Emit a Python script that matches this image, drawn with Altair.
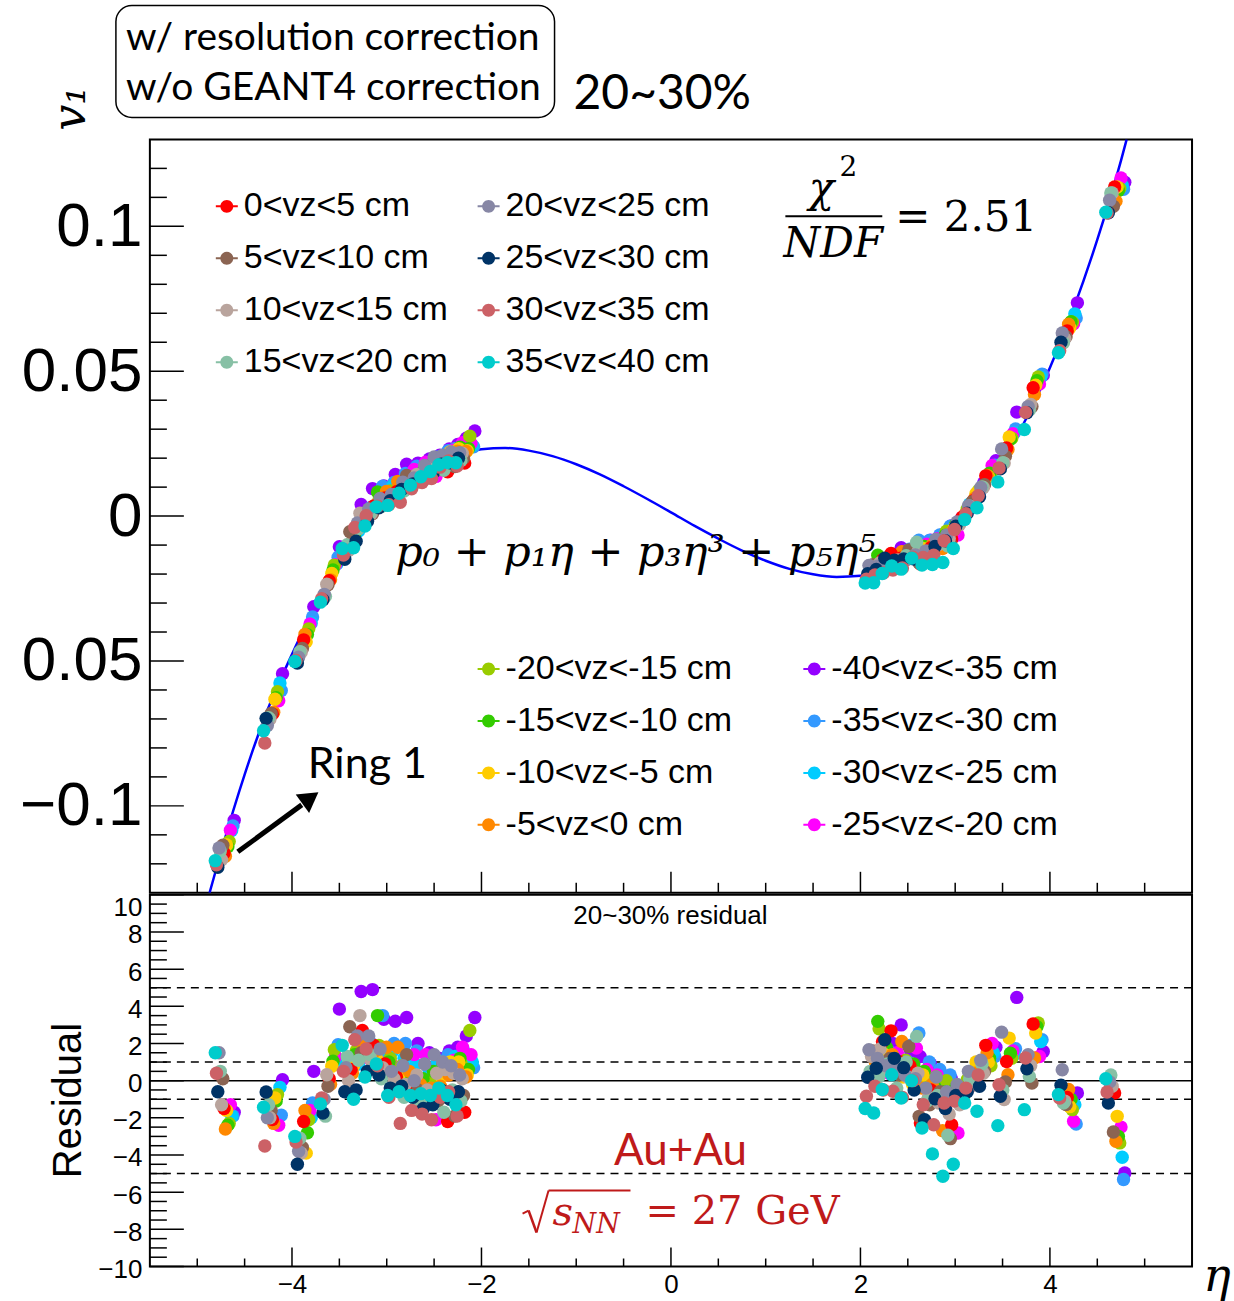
import altair as alt
import pandas as pd

# ---------------------------------------------------------------- data
VZ_BINS = ["-40<vz<-35 cm", "-35<vz<-30 cm", "-30<vz<-25 cm", "-25<vz<-20 cm",
           "-20<vz<-15 cm", "-15<vz<-10 cm", "-10<vz<-5 cm", "-5<vz<0 cm",
           "0<vz<5 cm", "5<vz<10 cm", "10<vz<15 cm", "15<vz<20 cm",
           "20<vz<25 cm", "25<vz<30 cm", "30<vz<35 cm", "35<vz<40 cm"]
VZ_COLORS = ["#9400ff", "#3399ff", "#00ccff", "#ff00ff",
             "#99cc00", "#33cc00", "#ffcc00", "#ff8800",
             "#ff0000", "#8b6452", "#b9a49d", "#87c0a5",
             "#8787a5", "#003366", "#cc6166", "#00cccc"]
# legend entries, column by column as in the figure
LEGEND_POS = ["0<vz<5 cm", "5<vz<10 cm", "10<vz<15 cm", "15<vz<20 cm",
              "20<vz<25 cm", "25<vz<30 cm", "30<vz<35 cm", "35<vz<40 cm"]
LEGEND_NEG = ["-20<vz<-15 cm", "-15<vz<-10 cm", "-10<vz<-5 cm", "-5<vz<0 cm",
              "-40<vz<-35 cm", "-35<vz<-30 cm", "-30<vz<-25 cm", "-25<vz<-20 cm"]

# eta of the 32 ring points (ascending) for each vz bin
ETA_B00 = [-4.61, -4.10, -3.77, -3.50, -3.27, -3.15, -3.03, -2.91, -2.79, -2.67, -2.55, -2.44, -2.34, -2.25, -2.16, -2.07, 2.25, 2.34, 2.43, 2.53, 2.63, 2.74, 2.85, 2.96, 3.07, 3.18, 3.30, 3.43, 3.65, 3.93, 4.29, 4.79]
ETA_B01 = [-4.623, -4.113, -3.783, -3.513, -3.283, -3.163, -3.043, -2.923, -2.803, -2.683, -2.563, -2.453, -2.353, -2.263, -2.173, -2.083, 2.237, 2.327, 2.417, 2.517, 2.617, 2.727, 2.837, 2.947, 3.057, 3.167, 3.287, 3.417, 3.637, 3.917, 4.277, 4.777]
ETA_B02 = [-4.637, -4.127, -3.797, -3.527, -3.297, -3.177, -3.057, -2.937, -2.817, -2.697, -2.577, -2.467, -2.367, -2.277, -2.187, -2.097, 2.223, 2.313, 2.403, 2.503, 2.603, 2.713, 2.823, 2.933, 3.043, 3.153, 3.273, 3.403, 3.623, 3.903, 4.263, 4.763]
ETA_B03 = [-4.65, -4.14, -3.81, -3.54, -3.31, -3.19, -3.07, -2.95, -2.83, -2.71, -2.59, -2.48, -2.38, -2.29, -2.20, -2.11, 2.21, 2.30, 2.39, 2.49, 2.59, 2.70, 2.81, 2.92, 3.03, 3.14, 3.26, 3.39, 3.61, 3.89, 4.25, 4.75]
ETA_B04 = [-4.663, -4.153, -3.823, -3.553, -3.323, -3.203, -3.083, -2.963, -2.843, -2.723, -2.603, -2.493, -2.393, -2.303, -2.213, -2.123, 2.197, 2.287, 2.377, 2.477, 2.577, 2.687, 2.797, 2.907, 3.017, 3.127, 3.247, 3.377, 3.597, 3.877, 4.237, 4.737]
ETA_B05 = [-4.677, -4.167, -3.837, -3.567, -3.337, -3.217, -3.097, -2.977, -2.857, -2.737, -2.617, -2.507, -2.407, -2.317, -2.227, -2.137, 2.183, 2.273, 2.363, 2.463, 2.563, 2.673, 2.783, 2.893, 3.003, 3.113, 3.233, 3.363, 3.583, 3.863, 4.223, 4.723]
ETA_B06 = [-4.69, -4.18, -3.85, -3.58, -3.35, -3.23, -3.11, -2.99, -2.87, -2.75, -2.63, -2.52, -2.42, -2.33, -2.24, -2.15, 2.17, 2.26, 2.35, 2.45, 2.55, 2.66, 2.77, 2.88, 2.99, 3.10, 3.22, 3.35, 3.57, 3.85, 4.21, 4.71]
ETA_B07 = [-4.703, -4.193, -3.863, -3.593, -3.363, -3.243, -3.123, -3.003, -2.883, -2.763, -2.643, -2.533, -2.433, -2.343, -2.253, -2.163, 2.157, 2.247, 2.337, 2.437, 2.537, 2.647, 2.757, 2.867, 2.977, 3.087, 3.207, 3.337, 3.557, 3.837, 4.197, 4.697]
ETA_B08 = [-4.717, -4.207, -3.877, -3.607, -3.377, -3.257, -3.137, -3.017, -2.897, -2.777, -2.657, -2.547, -2.447, -2.357, -2.267, -2.177, 2.143, 2.233, 2.323, 2.423, 2.523, 2.633, 2.743, 2.853, 2.963, 3.073, 3.193, 3.323, 3.543, 3.823, 4.183, 4.683]
ETA_B09 = [-4.73, -4.22, -3.89, -3.62, -3.39, -3.27, -3.15, -3.03, -2.91, -2.79, -2.67, -2.56, -2.46, -2.37, -2.28, -2.19, 2.13, 2.22, 2.31, 2.41, 2.51, 2.62, 2.73, 2.84, 2.95, 3.06, 3.18, 3.31, 3.53, 3.81, 4.17, 4.67]
ETA_B10 = [-4.743, -4.233, -3.903, -3.633, -3.403, -3.283, -3.163, -3.043, -2.923, -2.803, -2.683, -2.573, -2.473, -2.383, -2.293, -2.203, 2.117, 2.207, 2.297, 2.397, 2.497, 2.607, 2.717, 2.827, 2.937, 3.047, 3.167, 3.297, 3.517, 3.797, 4.157, 4.657]
ETA_B11 = [-4.757, -4.247, -3.917, -3.647, -3.417, -3.297, -3.177, -3.057, -2.937, -2.817, -2.697, -2.587, -2.487, -2.397, -2.307, -2.217, 2.103, 2.193, 2.283, 2.383, 2.483, 2.593, 2.703, 2.813, 2.923, 3.033, 3.153, 3.283, 3.503, 3.783, 4.143, 4.643]
ETA_B12 = [-4.77, -4.26, -3.93, -3.66, -3.43, -3.31, -3.19, -3.07, -2.95, -2.83, -2.71, -2.60, -2.50, -2.41, -2.32, -2.23, 2.09, 2.18, 2.27, 2.37, 2.47, 2.58, 2.69, 2.80, 2.91, 3.02, 3.14, 3.27, 3.49, 3.77, 4.13, 4.63]
ETA_B13 = [-4.783, -4.273, -3.943, -3.673, -3.443, -3.323, -3.203, -3.083, -2.963, -2.843, -2.723, -2.613, -2.513, -2.423, -2.333, -2.243, 2.077, 2.167, 2.257, 2.357, 2.457, 2.567, 2.677, 2.787, 2.897, 3.007, 3.127, 3.257, 3.477, 3.757, 4.117, 4.617]
ETA_B14 = [-4.797, -4.287, -3.957, -3.687, -3.457, -3.337, -3.217, -3.097, -2.977, -2.857, -2.737, -2.627, -2.527, -2.437, -2.347, -2.257, 2.063, 2.153, 2.243, 2.343, 2.443, 2.553, 2.663, 2.773, 2.883, 2.993, 3.113, 3.243, 3.463, 3.743, 4.103, 4.603]
ETA_B15 = [-4.81, -4.30, -3.97, -3.70, -3.47, -3.35, -3.23, -3.11, -2.99, -2.87, -2.75, -2.64, -2.54, -2.45, -2.36, -2.27, 2.05, 2.14, 2.23, 2.33, 2.43, 2.54, 2.65, 2.76, 2.87, 2.98, 3.10, 3.23, 3.45, 3.73, 4.09, 4.59]

# v1 of every ring cluster, one value per vz bin (VZ_BINS order)
V1_L01 = [-0.1050, -0.1069, -0.1085, -0.1084, -0.1123, -0.1141, -0.1135, -0.1174, -0.1163, -0.1136, -0.1186, -0.1156, -0.1145, -0.1212, -0.1203, -0.1189]
V1_L02 = [-0.0544, -0.0602, -0.0576, -0.0637, -0.0606, -0.0627, -0.0632, -0.0677, -0.0683, -0.0681, -0.0701, -0.0696, -0.0723, -0.0698, -0.0783, -0.0741]
V1_L03 = [-0.0313, -0.0348, -0.0369, -0.0372, -0.0389, -0.0409, -0.0434, -0.0408, -0.0427, -0.0457, -0.0470, -0.0468, -0.0487, -0.0507, -0.0498, -0.0502]
V1_L04 = [-0.0106, -0.0142, -0.0165, -0.0167, -0.0169, -0.0186, -0.0198, -0.0220, -0.0223, -0.0237, -0.0235, -0.0277, -0.0270, -0.0289, -0.0285, -0.0297]
V1_L05 = [0.0040, -0.0038, -0.0051, -0.0045, -0.0049, -0.0059, -0.0078, -0.0092, -0.0094, -0.0054, -0.0119, -0.0099, -0.0117, -0.0149, -0.0134, -0.0112]
V1_L06 = [0.0095, 0.0031, 0.0021, 0.0004, 0.0016, 0.0002, -0.0009, -0.0005, 0.0005, -0.0025, 0.0010, -0.0044, -0.0024, -0.0087, -0.0039, -0.0109]
V1_L07 = [0.0104, 0.0103, 0.0054, 0.0043, 0.0056, 0.0083, 0.0032, 0.0035, 0.0035, 0.0008, 0.0009, 0.0010, 0.0025, -0.0018, 0.0001, -0.0034]
V1_L08 = [0.0144, 0.0116, 0.0103, 0.0085, 0.0087, 0.0078, 0.0066, 0.0085, 0.0063, 0.0048, 0.0050, 0.0033, 0.0061, 0.0029, 0.0034, 0.0032]
V1_L09 = [0.0179, 0.0147, 0.0127, 0.0111, 0.0112, 0.0100, 0.0094, 0.0120, 0.0084, 0.0070, 0.0074, 0.0058, 0.0075, 0.0053, 0.0039, 0.0037]
V1_L10 = [0.0183, 0.0172, 0.0154, 0.0161, 0.0135, 0.0130, 0.0114, 0.0129, 0.0103, 0.0140, 0.0104, 0.0087, 0.0117, 0.0092, 0.0048, 0.0079]
V1_L11 = [0.0197, 0.0178, 0.0165, 0.0186, 0.0149, 0.0154, 0.0133, 0.0143, 0.0119, 0.0131, 0.0144, 0.0115, 0.0132, 0.0111, 0.0094, 0.0107]
V1_L12 = [0.0210, 0.0192, 0.0203, 0.0137, 0.0180, 0.0184, 0.0158, 0.0161, 0.0147, 0.0152, 0.0152, 0.0136, 0.0175, 0.0125, 0.0116, 0.0136]
V1_L13 = [0.0232, 0.0226, 0.0210, 0.0200, 0.0202, 0.0208, 0.0192, 0.0180, 0.0170, 0.0160, 0.0188, 0.0162, 0.0204, 0.0148, 0.0130, 0.0154]
V1_L14 = [0.0247, 0.0221, 0.0233, 0.0228, 0.0220, 0.0216, 0.0221, 0.0205, 0.0153, 0.0177, 0.0206, 0.0158, 0.0210, 0.0179, 0.0169, 0.0177]
V1_L15 = [0.0269, 0.0244, 0.0250, 0.0253, 0.0234, 0.0238, 0.0233, 0.0224, 0.0198, 0.0171, 0.0216, 0.0196, 0.0221, 0.0184, 0.0190, 0.0185]
V1_L16 = [0.0294, 0.0239, 0.0244, 0.0251, 0.0276, 0.0233, 0.0226, 0.0223, 0.0183, 0.0200, 0.0217, 0.0192, 0.0219, 0.0200, 0.0173, 0.0184]
V1_R16 = [-0.0164, -0.0173, -0.0181, -0.0174, -0.0141, -0.0135, -0.0182, -0.0176, -0.0191, -0.0168, -0.0175, -0.0190, -0.0170, -0.0199, -0.0218, -0.0231]
V1_R15 = [-0.0141, -0.0151, -0.0167, -0.0174, -0.0161, -0.0152, -0.0161, -0.0171, -0.0151, -0.0176, -0.0161, -0.0189, -0.0173, -0.0184, -0.0203, -0.0230]
V1_R14 = [-0.0109, -0.0149, -0.0145, -0.0141, -0.0159, -0.0165, -0.0155, -0.0150, -0.0129, -0.0157, -0.0171, -0.0166, -0.0170, -0.0145, -0.0196, -0.0198]
V1_R13 = [-0.0117, -0.0114, -0.0132, -0.0138, -0.0134, -0.0144, -0.0155, -0.0123, -0.0145, -0.0160, -0.0151, -0.0177, -0.0161, -0.0152, -0.0186, -0.0172]
V1_R12 = [-0.0103, -0.0083, -0.0122, -0.0102, -0.0130, -0.0123, -0.0146, -0.0134, -0.0133, -0.0117, -0.0149, -0.0137, -0.0153, -0.0148, -0.0179, -0.0183]
V1_R11 = [-0.0083, -0.0084, -0.0101, -0.0097, -0.0111, -0.0105, -0.0112, -0.0127, -0.0165, -0.0162, -0.0123, -0.0090, -0.0134, -0.0148, -0.0142, -0.0145]
V1_R10 = [-0.0066, -0.0065, -0.0089, -0.0078, -0.0082, -0.0095, -0.0104, -0.0100, -0.0109, -0.0126, -0.0122, -0.0130, -0.0120, -0.0154, -0.0143, -0.0169]
V1_R09 = [-0.0034, -0.0035, -0.0051, -0.0062, -0.0052, -0.0067, -0.0078, -0.0112, -0.0081, -0.0083, -0.0098, -0.0094, -0.0080, -0.0105, -0.0135, -0.0167]
V1_R08 = [-0.0006, -0.0016, -0.0026, -0.0065, -0.0027, -0.0030, -0.0041, -0.0050, -0.0079, -0.0097, -0.0077, -0.0103, -0.0065, -0.0085, -0.0085, -0.0160]
V1_R07 = [0.0047, 0.0034, 0.0042, 0.0021, 0.0024, 0.0007, 0.0004, -0.0007, -0.0004, -0.0019, -0.0029, -0.0023, -0.0020, -0.0035, -0.0046, -0.0112]
V1_R06 = [0.0114, 0.0103, 0.0092, 0.0088, 0.0088, 0.0071, 0.0078, 0.0062, 0.0053, 0.0050, 0.0033, 0.0034, 0.0036, 0.0010, 0.0008, -0.0012]
V1_R05 = [0.0191, 0.0176, 0.0173, 0.0175, 0.0147, 0.0148, 0.0137, 0.0140, 0.0139, 0.0108, 0.0099, 0.0101, 0.0099, 0.0067, 0.0070, 0.0029]
V1_R04 = [0.0359, 0.0301, 0.0287, 0.0284, 0.0269, 0.0266, 0.0273, 0.0230, 0.0235, 0.0207, 0.0183, 0.0184, 0.0232, 0.0163, 0.0166, 0.0118]
V1_R03 = [0.0487, 0.0490, 0.0479, 0.0456, 0.0480, 0.0467, 0.0452, 0.0420, 0.0443, 0.0378, 0.0385, 0.0366, 0.0378, 0.0357, 0.0358, 0.0299]
V1_R02 = [0.0736, 0.0684, 0.0698, 0.0664, 0.0669, 0.0671, 0.0650, 0.0662, 0.0639, 0.0619, 0.0612, 0.0598, 0.0632, 0.0600, 0.0571, 0.0564]
V1_R01 = [0.1152, 0.1128, 0.1142, 0.1167, 0.1131, 0.1124, 0.1136, 0.1087, 0.1136, 0.1069, 0.1115, 0.1115, 0.1090, 0.1047, 0.1046, 0.1049]

# residual of every ring cluster, one value per vz bin
RES_L01 = [-1.7, -1.9, -1.9, -1.3, -2.3, -2.4, -1.6, -2.6, -1.5, 0.1, -1.3, 0.5, 1.5, -0.6, 0.4, 1.5]
RES_L02 = [0.05, -1.86, -0.36, -2.4, -0.75, -1.1, -0.93, -2.3, -2.09, -1.6, -2.0, -1.3, -2.0, -0.61, -3.52, -1.43]
RES_L03 = [0.5, -1.2, -2.0, -1.6, -2.1, -2.8, -3.9, -1.6, -2.2, -3.6, -3.9, -3.1, -3.8, -4.5, -3.3, -3.0]
RES_L04 = [3.85, 1.93, 0.9, 1.3, 1.66, 1.04, 0.77, -0.2, 0.1, -0.3, 0.32, -1.91, -1.0, -1.74, -0.93, -1.25]
RES_L05 = [4.8, 1.2, 0.9, 1.5, 1.6, 1.4, 0.8, 0.4, 0.6, 2.9, 0.0, 1.3, 0.7, -0.6, 0.5, 1.9]
RES_L06 = [4.9, 2.0, 1.8, 1.2, 2.1, 1.7, 1.4, 1.9, 2.7, 1.5, 3.5, 1.1, 2.4, -0.5, 2.2, -1.0]
RES_L07 = [3.3, 3.5, 1.3, 1.0, 1.9, 3.5, 1.2, 1.6, 1.9, 0.8, 1.1, 1.4, 2.4, 0.5, 1.7, 0.2]
RES_L08 = [3.2, 2.0, 1.6, 0.9, 1.2, 1.0, 0.6, 1.8, 0.9, 0.4, 0.7, 0.1, 1.7, 0.3, 0.8, 0.9]
RES_L09 = [3.4, 2.0, 1.2, 0.6, 0.8, 0.4, 0.3, 1.8, 0.2, -0.3, 0.1, -0.5, 0.5, -0.4, -0.9, -0.8]
RES_L10 = [2.0, 1.6, 0.9, 1.4, 0.3, 0.2, -0.4, 0.5, -0.6, 1.4, -0.2, -0.9, 0.8, -0.3, -2.3, -0.6]
RES_L11 = [1.5, 0.7, 0.2, 1.4, -0.3, 0.1, -0.8, -0.2, -1.2, -0.5, 0.3, -1.0, 0.0, -0.9, -1.6, -0.8]
RES_L12 = [1.2, 0.4, 1.1, -2.1, 0.2, 0.5, -0.7, -0.4, -1.0, -0.6, -0.5, -1.2, 0.9, -1.5, -1.8, -0.7]
RES_L13 = [1.6, 1.4, 0.7, 0.3, 0.5, 0.9, 0.2, -0.3, -0.7, -1.1, 0.4, -0.8, 1.4, -1.3, -2.1, -0.8]
RES_L14 = [1.8, 0.6, 1.3, 1.1, 0.8, 0.7, 1.0, 0.3, -2.2, -0.9, 0.6, -1.7, 1.0, -0.5, -0.9, -0.4]
RES_L15 = [2.4, 1.2, 1.6, 1.8, 0.9, 1.2, 1.0, 0.6, -0.6, -1.9, 0.4, -0.5, 0.8, -1.0, -0.6, -0.8]
RES_L16 = [3.4, 0.7, 1.0, 1.4, 2.7, 0.6, 0.3, 0.2, -1.7, -0.8, 0.1, -1.1, 0.3, -0.6, -1.9, -1.3]
RES_R16 = [1.2, 0.8, 0.4, 0.9, 2.79, 3.19, 0.6, 1.0, 0.3, 1.6, 1.3, 0.5, 1.66, 0.18, -0.84, -1.5]
RES_R15 = [2.0, 1.5, 0.7, 0.4, 1.2, 1.8, 1.4, 0.9, 2.1, 0.8, 1.7, 0.2, 1.2, 0.67, -0.3, -1.74]
RES_R14 = [3.0, 0.9, 1.2, 1.5, 0.6, 0.4, 1.0, 1.4, 2.68, 1.2, 0.5, 0.9, 0.8, 2.2, -0.5, -0.48]
RES_R13 = [1.6, 1.9, 1.0, 0.8, 1.1, 0.7, 0.2, 2.11, 1.0, 0.3, 0.9, -0.4, 0.6, 1.2, -0.57, 0.32]
RES_R12 = [1.3, 2.56, 0.5, 1.75, 0.4, 0.9, -0.2, 0.6, 0.8, 1.84, 0.2, 1.0, 0.3, 0.7, -0.9, -0.93]
RES_R11 = [0.9, 1.0, 0.2, 0.6, 0.0, 0.5, 0.3, -0.4, -2.28, -1.92, 0.4, 2.38, 0.1, -0.5, 0.0, 0.0]
RES_R10 = [0.4, 0.6, -0.5, 0.3, 0.2, -0.3, -0.6, -0.2, -0.5, -1.3, -0.9, -1.1, -0.4, -2.1, -1.3, -2.55]
RES_R09 = [0.1, 0.3, -0.4, -0.8, 0.0, -0.6, -1.0, -2.69, -0.7, -0.6, -1.2, -0.8, 0.2, -0.97, -2.37, -3.94]
RES_R08 = [-0.3, -0.6, -0.9, -2.82, -0.5, -0.4, -0.8, -1.0, -2.37, -3.12, -1.8, -2.94, -0.6, -1.5, -1.2, -5.14]
RES_R07 = [0.2, -0.2, 0.5, -0.4, 0.05, -0.6, -0.5, -0.9, -0.4, -1.0, -1.3, -0.66, -0.2, -0.8, -1.1, -4.5]
RES_R06 = [1.1, 0.8, 0.5, 0.6, 0.9, 0.3, 1.0, 0.4, 0.2, 0.32, -0.3, 0.1, 0.5, -0.6, -0.4, -1.2]
RES_R05 = [1.8, 1.3, 1.5, 2.0, 0.8, 1.2, 1.0, 1.5, 1.9, 0.5, 0.4, 0.9, 1.1, -0.3, 0.3, -1.65]
RES_R04 = [4.48, 1.72, 1.4, 1.6, 1.21, 1.48, 2.29, 0.32, 1.03, -0.07, -1.02, -0.5, 2.61, -0.84, -0.22, -2.42]
RES_R03 = [1.57, 2.2, 2.1, 1.3, 3.1, 2.9, 2.56, 1.22, 3.05, -0.13, 0.8, 0.23, 1.4, 0.64, 1.22, -1.56]
RES_R02 = [-0.66, -2.33, -1.29, -2.18, -1.56, -1.0, -1.4, -0.48, -0.9, -1.29, -1.1, -1.2, 0.59, -0.25, -0.93, -0.75]
RES_R01 = [-4.97, -5.32, -4.12, -2.5, -3.35, -3.0, -1.92, -3.26, -0.66, -2.76, -0.3, 0.3, -0.07, -1.2, -0.61, 0.1]

# fitted curve p0 + p1 eta + p3 eta^3 + p5 eta^5 (frame to frame)
CURVE_ETA = [-4.87, -4.75, -4.5, -4.25, -4.0, -3.75, -3.5, -3.25, -3.0, -2.75, -2.5, -2.25, -2.0, -1.75, -1.5, -1.25, -1.0, -0.75, -0.5, -0.25, 0.0,
             0.25, 0.5, 0.75, 1.0, 1.25, 1.5, 1.75, 2.0, 2.25, 2.5, 2.75, 3.0, 3.25, 3.5, 3.75, 4.0, 4.25, 4.5, 4.75, 4.81]
CURVE_V1 = [-0.1300, -0.1160, -0.0892, -0.0662, -0.0477, -0.0307, -0.0164, -0.0046, 0.0050, 0.0123, 0.0177, 0.0212, 0.0231, 0.0235, 0.0226, 0.0207, 0.0179, 0.0144, 0.0103, 0.0059, 0.0013,
            -0.0034, -0.0078, -0.0119, -0.0154, -0.0182, -0.0201, -0.0210, -0.0206, -0.0187, -0.0152, -0.0098, -0.0025, 0.0071, 0.0191, 0.0337, 0.0512, 0.0717, 0.0954, 0.1227, 0.1300]

# axis ticks
Y1_MAJOR = [-0.1, -0.05, 0.0, 0.05, 0.1]
Y1_MINOR = [-0.12, -0.11, -0.09, -0.08, -0.07, -0.06, -0.04, -0.03, -0.02, -0.01,
            0.01, 0.02, 0.03, 0.04, 0.06, 0.07, 0.08, 0.09, 0.11, 0.12]
X_MAJOR = [-4, -2, 0, 2, 4]
X_MINOR = [-5.0, -4.5, -3.5, -3.0, -2.5, -1.5, -1.0, -0.5, 0.5, 1.0, 1.5, 2.5, 3.0, 3.5, 4.5, 5.0]
Y2_MAJOR = [-10, -8, -6, -4, -2, 0, 2, 4, 6, 8, 10]
Y2_MINOR = [-9.5, -9, -8.5, -7.5, -7, -6.5, -5.5, -5, -4.5, -3.5, -3, -2.5, -1.5, -1, -0.5,
            0.5, 1, 1.5, 2.5, 3, 3.5, 4.5, 5, 5.5, 6.5, 7, 7.5, 8.5, 9, 9.5]
RES_DASHED = [-5, -1, 1, 5]

# ---------------------------------------------------------------- table
ETA_BY_BIN = [ETA_B00, ETA_B01, ETA_B02, ETA_B03, ETA_B04, ETA_B05, ETA_B06, ETA_B07,
              ETA_B08, ETA_B09, ETA_B10, ETA_B11, ETA_B12, ETA_B13, ETA_B14, ETA_B15]
V1_BY_RING = [V1_L01, V1_L02, V1_L03, V1_L04, V1_L05, V1_L06, V1_L07, V1_L08,
              V1_L09, V1_L10, V1_L11, V1_L12, V1_L13, V1_L14, V1_L15, V1_L16,
              V1_R16, V1_R15, V1_R14, V1_R13, V1_R12, V1_R11, V1_R10, V1_R09,
              V1_R08, V1_R07, V1_R06, V1_R05, V1_R04, V1_R03, V1_R02, V1_R01]
RES_BY_RING = [RES_L01, RES_L02, RES_L03, RES_L04, RES_L05, RES_L06, RES_L07, RES_L08,
               RES_L09, RES_L10, RES_L11, RES_L12, RES_L13, RES_L14, RES_L15, RES_L16,
               RES_R16, RES_R15, RES_R14, RES_R13, RES_R12, RES_R11, RES_R10, RES_R09,
               RES_R08, RES_R07, RES_R06, RES_R05, RES_R04, RES_R03, RES_R02, RES_R01]

rows = []
for b, name in enumerate(VZ_BINS):
    for k in range(len(V1_BY_RING)):
        rows.append({"vz": name, "eta": ETA_BY_BIN[b][k],
                     "v1": V1_BY_RING[k][b], "res": RES_BY_RING[k][b]})
pts = pd.DataFrame(rows)
neg = pts[pts["vz"].isin(VZ_BINS[:8])]
pos = pts[pts["vz"].isin(VZ_BINS[8:])]
CMAP = dict(zip(VZ_BINS, VZ_COLORS))

# ---------------------------------------------------------------- style
W, H1, H2 = 1043, 754, 372
SANS, SERIF, CAL = "Liberation Sans", "DejaVu Serif", "Lato"
DARKRED = "#bf1a1a"
PT = 180

XS = alt.Scale(domain=[-5.5, 5.5], nice=False, zero=False)
YS1 = alt.Scale(domain=[-0.13, 0.13], nice=False, zero=False)
YS2 = alt.Scale(domain=[-10, 10], nice=False, zero=False)

AX_Y1 = alt.Axis(values=Y1_MAJOR, title=None, ticks=False, domain=False, grid=False,
                 labelFont=SANS, labelFontSize=62, labelPadding=8, labelColor="black",
                 labelFlush=False, labelOverlap=False,
                 labelExpr="datum.value > 0.09 ? '0.1' : datum.value > 0.04 ? '0.05' : "
                           "datum.value > -0.01 ? '0' : datum.value > -0.06 ? '0.05' : '\u22120.1'")
AX_Y2 = alt.Axis(values=Y2_MAJOR, title=None, ticks=False, domain=False, grid=False,
                 labelFont=SANS, labelFontSize=26, labelPadding=8, labelColor="black",
                 labelFlush=False, labelOverlap=False,
                 labelBaseline={"condition": {"test": "datum.value > 9", "value": "top"},
                                "value": "middle"},
                 labelOffset={"condition": {"test": "datum.value > 9", "value": 0}, "value": 3})
AX_X2 = alt.Axis(values=X_MAJOR, title=None, ticks=False, domain=False, grid=False,
                 labelFont=SANS, labelFontSize=26, labelPadding=5, labelColor="black",
                 labelFlush=False)

LEG_SYMBOL = ("M-1,-0.09L1,-0.09L1,0.09L-1,0.09Z "
              "M0.59,0A0.59,0.59 0 1,1 -0.59,0A0.59,0.59 0 1,1 0.59,0Z")


def legend(x, y, colpad):
    return alt.Legend(orient="none", legendX=x, legendY=y, columns=2, title=None,
                      symbolType=LEG_SYMBOL, symbolSize=484, symbolStrokeWidth=0,
                      labelFont=SANS, labelFontSize=34, labelColor="black", labelOffset=0,
                      labelLimit=600, columnPadding=colpad, rowPadding=18)


def color(domain, leg):
    return alt.Color("vz:N", scale=alt.Scale(domain=domain, range=[CMAP[d] for d in domain]),
                     legend=leg)


def one(value="x"):
    return alt.Chart(pd.DataFrame({"t": [value]}))


def text(s, x, y, size, font=SANS, style="normal", col="black", align="left",
         baseline="middle", angle=0):
    kw = dict(align=align, baseline=baseline, font=font, fontSize=size,
              fontStyle=style, color=col)
    if angle:
        kw["angle"] = angle
    return one(s).mark_text(**kw).encode(x=alt.value(x), y=alt.value(y), text="t:N")


def seg(x1, y1, x2, y2, width=2, col="black"):
    return one().mark_rule(color=col, strokeWidth=width).encode(
        x=alt.value(x1), y=alt.value(y1), x2=alt.value(x2), y2=alt.value(y2))


def yticks(vals, scale, axis, length):
    return alt.Chart(pd.DataFrame({"v": vals})).mark_rule(color="black", strokeWidth=1.5).encode(
        y=alt.Y("v:Q", scale=scale, axis=axis), x=alt.value(0), x2=alt.value(length))


def xticks(vals, axis, h, length):
    return alt.Chart(pd.DataFrame({"v": vals})).mark_rule(color="black", strokeWidth=1.5).encode(
        x=alt.X("v:Q", scale=XS, axis=axis), y=alt.value(h), y2=alt.value(h - length))


# ---------------------------------------------------------------- upper pad
X_UP = alt.X("eta:Q", scale=XS, axis=None)
Y_UP = alt.Y("v1:Q", scale=YS1, axis=AX_Y1)

curve = alt.Chart(pd.DataFrame({"eta": CURVE_ETA, "v1": CURVE_V1})).mark_line(
    color="#0000ff", strokeWidth=2.5, clip=True, interpolate="monotone").encode(x=X_UP, y=Y_UP)
up_neg = alt.Chart(neg).mark_circle(size=PT, opacity=1).encode(
    x=X_UP, y=Y_UP, color=color(LEGEND_NEG, legend(322, 513, 65)))
up_pos = alt.Chart(pos).mark_circle(size=PT, opacity=1).encode(
    x=X_UP, y=Y_UP, color=color(LEGEND_POS, legend(60, 50, 23)))

box = one().mark_rect(cornerRadius=16, fill="white", fillOpacity=0, stroke="black",
                      strokeWidth=1.5).encode(x=alt.value(-34), x2=alt.value(405),
                                              y=alt.value(-134), y2=alt.value(-22))
arrow_head = one().mark_point(shape="triangle", filled=True, size=520, angle=54,
                              color="black", opacity=1).encode(x=alt.value(158), y=alt.value(661))

upper = alt.layer(
    curve,
    yticks(Y1_MAJOR, YS1, AX_Y1, 34), yticks(Y1_MINOR, YS1, AX_Y1, 17),
    xticks(X_MAJOR, None, H1, 21), xticks(X_MINOR, None, H1, 10),
    up_neg, up_pos,
    box,
    text("w/ resolution correction", -24, -101, 39, font=CAL),
    text("w/o GEANT4 correction", -24, -51, 39, font=CAL),
    text("20~30%", 424, -44, 48, font=CAL),
    text("v\u2081", -79, -31, 46, font=SERIF, style="italic", align="center", angle=270),
    text("\u03c7", 672, 50, 42, font=SERIF, style="italic", align="center"),
    text("2", 699, 29, 28, font=SERIF, align="center"),
    seg(636, 77, 733, 77, width=2),
    text("NDF", 684, 105, 42, font=SERIF, style="italic", align="center"),
    text("= 2.51", 746, 79, 42, font=SERIF),
    text("p\u2080 + p\u2081\u03b7 + p\u2083\u03b7\u00b3 + p\u2085\u03b7\u2075", 486, 414, 43,
         font=SERIF, style="italic", align="center"),
    text("Ring 1", 158, 626, 43, font=CAL),
    seg(88, 713, 152, 666, width=5),
    arrow_head,
).resolve_scale(color="independent").properties(width=W, height=H1)

# ---------------------------------------------------------------- lower pad
X_LO = alt.X("eta:Q", scale=XS, axis=AX_X2)
Y_LO = alt.Y("res:Q", scale=YS2, axis=AX_Y2)

dashed = alt.Chart(pd.DataFrame({"v": RES_DASHED})).mark_rule(
    color="black", strokeWidth=1.5, strokeDash=[8, 6]).encode(y=alt.Y("v:Q", scale=YS2, axis=AX_Y2))
zero = alt.Chart(pd.DataFrame({"v": [0]})).mark_rule(color="black", strokeWidth=1.5).encode(
    y=alt.Y("v:Q", scale=YS2, axis=AX_Y2))
lo_neg = alt.Chart(neg).mark_circle(size=PT, opacity=1).encode(
    x=X_LO, y=Y_LO, color=color(LEGEND_NEG, None))
lo_pos = alt.Chart(pos).mark_circle(size=PT, opacity=1).encode(
    x=X_LO, y=Y_LO, color=color(LEGEND_POS, None))

lower = alt.layer(
    dashed, zero,
    yticks(Y2_MAJOR, YS2, AX_Y2, 34), yticks(Y2_MINOR, YS2, AX_Y2, 17),
    xticks(X_MAJOR, AX_X2, H2, 19), xticks(X_MINOR, AX_X2, H2, 8),
    lo_neg, lo_pos,
    text("20~30% residual", 521, 21, 26, align="center"),
    text("Au+Au", 531, 257, 44, font=CAL, col=DARKRED, align="center"),
    seg(373, 319, 379, 316, width=2, col=DARKRED),
    seg(379, 316, 387, 338, width=2.5, col=DARKRED),
    seg(387, 338, 399, 296, width=2, col=DARKRED),
    seg(399, 296, 481, 296, width=2, col=DARKRED),
    text("s", 403, 318, 40, font=SERIF, style="italic", col=DARKRED),
    text("NN", 423, 330, 27, font=SERIF, style="italic", col=DARKRED),
    text("= 27 GeV", 496, 317, 40, font=SERIF, col=DARKRED),
    text("Residual", -81, 206, 40, align="center", angle=270),
    text("\u03b7", 1068, 397, 46, font=SERIF, style="italic", align="center", baseline="alphabetic"),
).resolve_scale(color="independent").properties(width=W, height=H2)

chart = alt.vconcat(upper, lower, spacing=-4).resolve_scale(color="independent").properties(
    padding={"left": 18, "top": 3, "right": 2, "bottom": 0},
    background="white",
).configure_view(stroke="black", strokeWidth=2)

chart.save("out.html", embed_options={"renderer": "svg", "actions": False})
